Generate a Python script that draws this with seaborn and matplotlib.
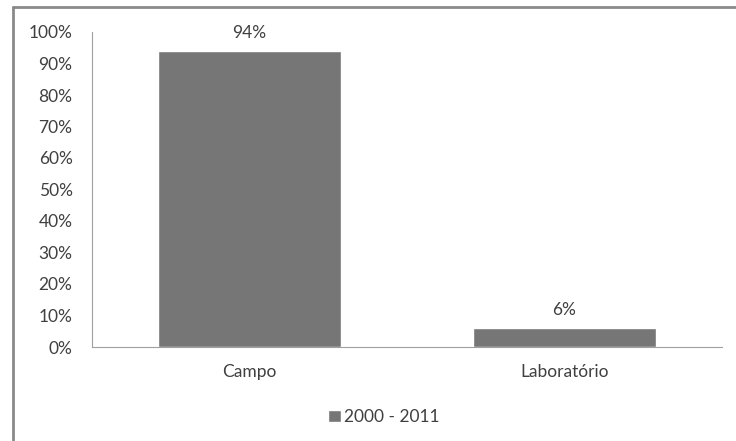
import pandas as pd
import matplotlib
matplotlib.use('Agg')
import matplotlib.pyplot as plt
import seaborn as sns
from matplotlib.lines import Line2D

categories = ['Campo', 'Laboratório']
values = [94, 6]
series = '2000 - 2011'

df = pd.DataFrame({'local': categories, 'pct': values, 'periodo': series})

sns.set_style('white')
plt.rcParams['font.family'] = ['Lato', 'DejaVu Sans']

fig = plt.figure(figsize=(7.36, 4.41), dpi=100)
ax = fig.add_axes([92 / 736, 1 - 347 / 441, 630 / 736, 315 / 441])

sns.barplot(data=df, x='local', y='pct', hue='periodo', palette=['#767676'],
            width=0.58, ax=ax, legend=True)

for i, v in enumerate(values):
    ax.text(i, v + 3.2, f'{v}%', ha='center', va='bottom', fontsize=12.5, color='#404040')

ax.set_ylim(0, 100)
ax.set_yticks(range(0, 101, 10))
ax.set_yticklabels([f'{t}%' for t in range(0, 101, 10)])
ax.set_xlabel('')
ax.set_ylabel('')
ax.tick_params(axis='both', length=0, labelsize=12.5, colors='#404040')
ax.tick_params(axis='y', pad=14)
ax.tick_params(axis='x', pad=12)
for s in ['top', 'right']:
    ax.spines[s].set_visible(False)
ax.spines['left'].set_color('#a0a0a0')
ax.spines['bottom'].set_color('#a0a0a0')

leg = ax.legend(loc='center', bbox_to_anchor=(0.463, -0.222), frameon=False,
                fontsize=12.5, handlelength=0.75, handleheight=0.75, handletextpad=0.2)
for t in leg.get_texts():
    t.set_color('#404040')

# moldura externa do gráfico
fig.add_artist(Line2D([13 / 736, 13 / 736], [0, 1 - 7 / 441], transform=fig.transFigure,
                      color='#8a8a8a', lw=2))
fig.add_artist(Line2D([13 / 736, 1], [1 - 7 / 441, 1 - 7 / 441], transform=fig.transFigure,
                      color='#8a8a8a', lw=2))

fig.savefig('out.png', dpi=100)
